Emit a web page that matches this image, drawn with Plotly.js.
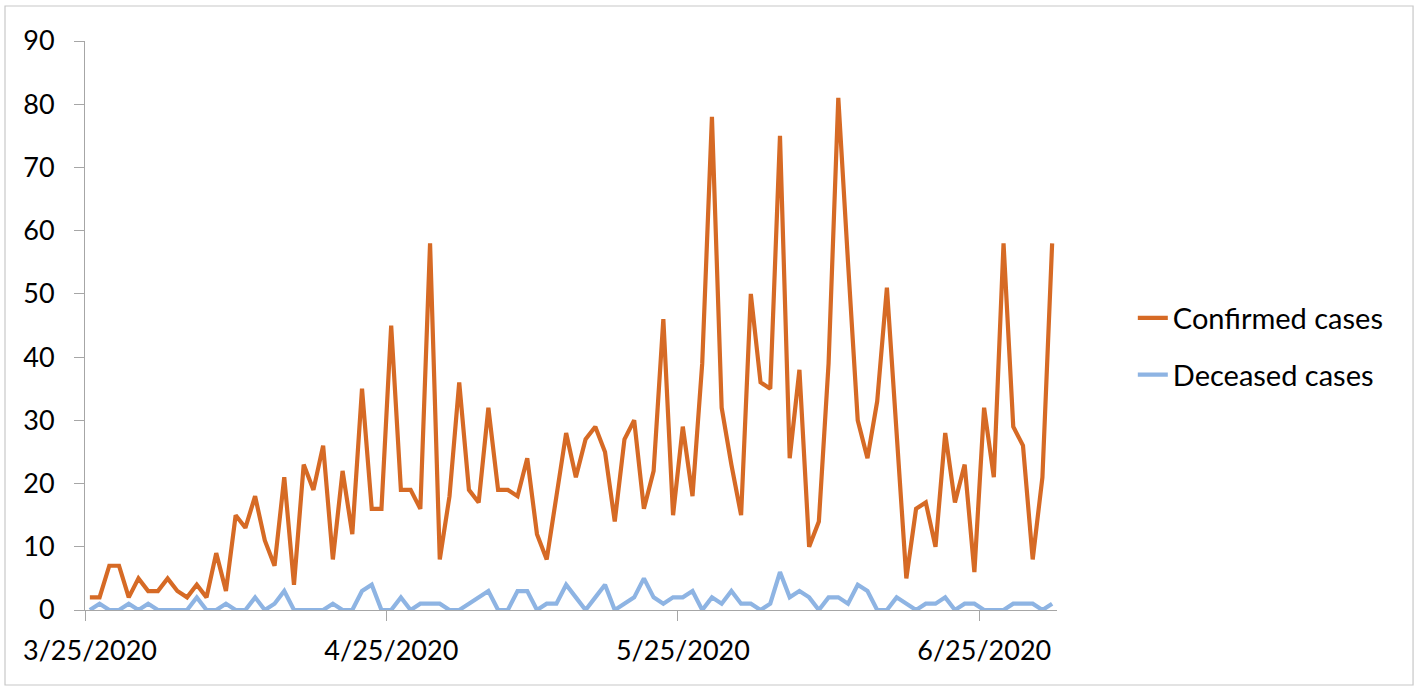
<!DOCTYPE html>
<html>
<head>
<meta charset="utf-8">
<script src="https://cdn.plot.ly/plotly-3.0.1.min.js"></script>
<style>
  html, body { margin: 0; padding: 0; background: #fff; }
  #chart { width: 1422px; height: 687px; }
</style>
</head>
<body>
<div id="chart"></div>
<script>
// ---- data ----
const startDate = '2020-03-25';
const confirmedCases = [
  2, 2, 7, 7, 2, 5, 3, 3, 5, 3,
  2, 4, 2, 9, 3, 15, 13, 18, 11, 7,
  21, 4, 23, 19, 26, 8, 22, 12, 35, 16,
  16, 45, 19, 19, 16, 58, 8, 18, 36, 19,
  17, 32, 19, 19, 18, 24, 12, 8, 18, 28,
  21, 27, 29, 25, 14, 27, 30, 16, 22, 46,
  15, 29, 18, 39, 78, 32, 23, 15, 50, 36,
  35, 75, 24, 38, 10, 14, 39, 81, 55, 30,
  24, 33, 51, 27, 5, 16, 17, 10, 28, 17,
  23, 6, 32, 21, 58, 29, 26, 8, 21, 58
];
const deceasedCases = [
  0, 1, 0, 0, 1, 0, 1, 0, 0, 0,
  0, 2, 0, 0, 1, 0, 0, 2, 0, 1,
  3, 0, 0, 0, 0, 1, 0, 0, 3, 4,
  0, 0, 2, 0, 1, 1, 1, 0, 0, 1,
  2, 3, 0, 0, 3, 3, 0, 1, 1, 4,
  2, 0, 2, 4, 0, 1, 2, 5, 2, 1,
  2, 2, 3, 0, 2, 1, 3, 1, 1, 0,
  1, 6, 2, 3, 2, 0, 2, 2, 1, 4,
  3, 0, 0, 2, 1, 0, 1, 1, 2, 0,
  1, 1, 0, 0, 0, 1, 1, 1, 0, 1
];
const tickDates = ['2020-03-25', '2020-04-25', '2020-05-25', '2020-06-25'];
const tickLabels = ['3/25/2020', '4/25/2020', '5/25/2020', '6/25/2020'];
const seriesNames = ['Confirmed cases', 'Deceased cases'];

// consecutive daily categories starting at startDate
function addDays(iso, n) {
  const d = new Date(iso + 'T00:00:00Z');
  d.setUTCDate(d.getUTCDate() + n);
  return d.toISOString().slice(0, 10);
}
const dates = confirmedCases.map((_, i) => addDays(startDate, i));
// Excel date axis: tick marks sit at day boundaries (half a day before each point)
const tickVals = tickDates.map(d => addDays(d, -1) + ' 12:00');
const xRange = [addDays(dates[0], -1) + ' 12:00', dates[dates.length - 1] + ' 12:00'];

const FONT = 'Lato, "Open Sans", sans-serif';

const traces = [
  {
    x: dates, y: confirmedCases, name: seriesNames[0], type: 'scatter', mode: 'lines',
    line: { color: '#D66A25', width: 4.2 }, legendgroup: 'a'
  },
  {
    x: dates, y: deceasedCases, name: seriesNames[1], type: 'scatter', mode: 'lines',
    line: { color: '#8EB4E3', width: 4.2 }, legendgroup: 'b'
  }
];

const axisCol = '#A6A6A6';
const layout = {
  width: 1422, height: 687,
  margin: { l: 85, r: 365, t: 41, b: 77, pad: 0 },
  paper_bgcolor: '#fff', plot_bgcolor: '#fff',
  font: { family: FONT, size: 27, color: '#000' },
  showlegend: true,
  legend: {
    x: 1.078, xanchor: 'left', y: 0.463, yanchor: 'middle',
    font: { family: FONT, size: 29, color: '#000' },
    traceorder: 'grouped', tracegroupgap: 16,
    bgcolor: 'rgba(0,0,0,0)', borderwidth: 0
  },
  xaxis: {
    type: 'date', range: xRange,
    tickmode: 'array', tickvals: tickVals, ticktext: tickLabels,
    ticklabelshift: 5, ticklabelstandoff: 7,
    ticks: 'outside', ticklen: 10, tickcolor: axisCol, tickwidth: 1,
    showline: true, linecolor: axisCol, linewidth: 1,
    showgrid: false, zeroline: false,
    tickfont: { family: FONT, size: 27, color: '#000' },
    fixedrange: true
  },
  yaxis: {
    range: [0, 90], tick0: 0, dtick: 10,
    ticks: 'outside', ticklen: 10, tickcolor: axisCol, tickwidth: 1,
    ticklabelstandoff: 14,
    showline: true, linecolor: axisCol, linewidth: 1,
    showgrid: false, zeroline: false,
    tickfont: { family: FONT, size: 27, color: '#000' },
    fixedrange: true
  },
  shapes: [
    {
      type: 'rect', xref: 'paper', yref: 'paper',
      x0: -0.0823, x1: 1.3663, y0: -0.1318, y1: 1.0615,
      line: { color: '#C8C8C8', width: 1.2 }, fillcolor: 'rgba(0,0,0,0)', layer: 'below'
    }
  ]
};

Plotly.newPlot('chart', traces, layout, { displayModeBar: false, staticPlot: true });
</script>
</body>
</html>
